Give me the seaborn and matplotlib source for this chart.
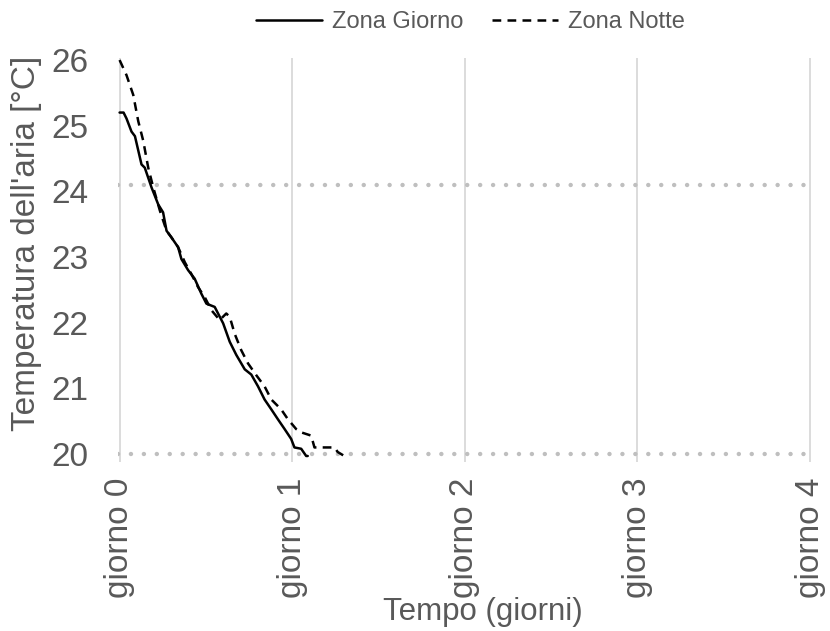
import numpy as np
import matplotlib
matplotlib.use("Agg")
import matplotlib.pyplot as plt
import seaborn as sns
import pandas as pd

sns.set_style("white")
plt.rcParams["font.family"] = ["Liberation Sans", "DejaVu Sans"]

# giorni / temperatura
giorno_t = [0.0, 0.023, 0.04, 0.069, 0.089, 0.127, 0.146, 0.185, 0.224, 0.252,
            0.272, 0.3, 0.339, 0.358, 0.397, 0.435, 0.474, 0.503, 0.551, 0.6,
            0.638, 0.676, 0.725, 0.763, 0.802, 0.84, 0.879, 0.917, 0.956, 0.994,
            1.013, 1.052, 1.081, 1.09]
giorno_T = [25.2, 25.2, 25.11, 24.91, 24.84, 24.41, 24.36, 24.06, 23.8, 23.68,
            23.4, 23.3, 23.15, 22.97, 22.8, 22.67, 22.44, 22.29, 22.24, 21.99,
            21.71, 21.51, 21.29, 21.21, 21.03, 20.83, 20.68, 20.53, 20.38, 20.23,
            20.1, 20.08, 19.97, 19.97]

notte_t = [0.0, 0.04, 0.079, 0.108, 0.137, 0.166, 0.195, 0.233, 0.272, 0.3,
           0.339, 0.378, 0.416, 0.455, 0.493, 0.532, 0.58, 0.618, 0.638, 0.667,
           0.705, 0.744, 0.792, 0.84, 0.879, 0.936, 0.975, 1.023, 1.052, 1.11,
           1.129, 1.245, 1.264, 1.302]
notte_T = [26.0, 25.77, 25.47, 25.07, 24.77, 24.36, 24.06, 23.71, 23.4, 23.3,
           23.15, 22.92, 22.74, 22.54, 22.39, 22.19, 22.04, 22.14, 22.09, 21.83,
           21.58, 21.38, 21.2, 21.03, 20.83, 20.68, 20.53, 20.38, 20.33, 20.28,
           20.1, 20.1, 20.03, 19.97]

soglie = [24.1, 20.0]
xticks = [0, 1, 2, 3, 4]
xlabels = ["giorno 0", "giorno 1", "giorno 2", "giorno 3", "giorno 4"]

df = pd.concat([
    pd.DataFrame({"giorni": giorno_t, "T": giorno_T, "zona": "Zona Giorno"}),
    pd.DataFrame({"giorni": notte_t, "T": notte_T, "zona": "Zona Notte"}),
])

grigio = "#595959"
fig = plt.figure(figsize=(8.3, 6.31), dpi=100)
ax = fig.add_axes([0.142, 0.268, 0.836, 0.640])

for s in soglie:
    ax.axhline(s, color="#bfbfbf", lw=3.2, linestyle=(0, (0.01, 2.9)),
               dash_capstyle="round", zorder=1)

sns.lineplot(data=df, x="giorni", y="T", style="zona",
             dashes={"Zona Giorno": "", "Zona Notte": (3.5, 2.5)},
             color="black", linewidth=1.8, sort=False, ax=ax, zorder=3)

ax.set_xlim(-0.01, 4.01)
ax.set_ylim(19.88, 26.03)
ax.set_yticks([20, 21, 22, 23, 24, 25, 26])
ax.set_xticks(xticks)
ax.set_xticklabels(xlabels, rotation=90)
ax.grid(axis="x", color="#d9d9d9", lw=1.3)
ax.grid(axis="y", visible=False)
sns.despine(ax=ax, left=True, bottom=True)
ax.tick_params(axis="both", length=0, labelsize=24, colors=grigio)
ax.tick_params(axis="y", pad=21)
ax.tick_params(axis="x", pad=11)
ax.set_xlabel("Tempo (giorni)", fontsize=22.5, color=grigio)
ax.set_ylabel("Temperatura dell'aria [°C]", fontsize=24, color=grigio)
ax.xaxis.set_label_coords(0.526, -0.335)
ax.yaxis.set_label_coords(-0.11, 0.542)

leg = ax.legend(loc="center", bbox_to_anchor=(0.567, 0.965),
                bbox_transform=fig.transFigure, ncol=2,
                frameon=False, fontsize=17, handlelength=2.8, columnspacing=1.2,
                handletextpad=0.42, title=None)
for t in leg.get_texts():
    t.set_color(grigio)

fig.savefig("out.png", dpi=100)
